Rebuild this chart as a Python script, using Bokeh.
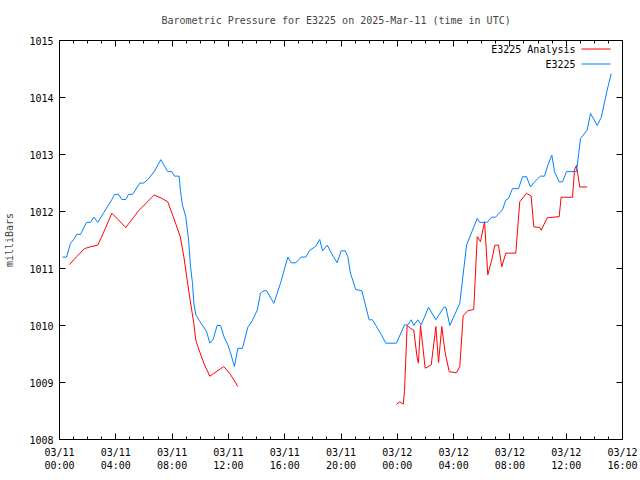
import math
from bokeh.plotting import figure
from bokeh.models import Range1d, FixedTicker, LinearAxis, Label, BoxAnnotation
from bokeh.embed import file_html
from bokeh.resources import INLINE

TITLE = "Barometric Pressure for E3225 on 2025-Mar-11 (time in UTC)"
Y_LABEL = "milliBars"
SERIES_NAMES = ["E3225 Analysis", "E3225"]

# hours since 2025-03-11 00:00 UTC
X_TICK_HOURS = [0, 4, 8, 12, 16, 20, 24, 28, 32, 36, 40]
X_TICK_LABELS = ["03/11\n00:00", "03/11\n04:00", "03/11\n08:00", "03/11\n12:00",
                 "03/11\n16:00", "03/11\n20:00", "03/12\n00:00", "03/12\n04:00",
                 "03/12\n08:00", "03/12\n12:00", "03/12\n16:00"]
X_MINOR_HOURS = list(range(0, 41))
Y_TICKS = [1008, 1009, 1010, 1011, 1012, 1013, 1014, 1015]

NAN = float("nan")

# Observed station pressure (E3225)
obs_hours = [0.21, 0.50, 0.78, 1.07, 1.21, 1.49, 1.92, 2.20, 2.44, 2.72,
             3.72, 3.91, 4.19, 4.43, 4.71, 4.90, 5.19, 5.71, 5.99, 6.32,
             6.75, 7.20, 7.69, 7.98, 8.17, 8.50, 8.60, 8.74, 8.97, 9.17,
             9.31, 9.45, 9.54, 9.68, 9.97, 10.44, 10.68, 10.92, 11.20, 11.44,
             11.72, 11.96, 12.15, 12.43, 12.67, 13.00, 13.38, 13.69, 14.05, 14.28,
             14.52, 14.71, 15.23, 15.70, 16.22, 16.46, 16.79, 17.17, 17.50, 17.78,
             18.21, 18.49, 18.69, 19.02, 19.45, 19.73, 20.01, 20.30, 20.48, 20.67,
             21.05, 21.48, 22.00, 22.24, 22.86, 23.18, 23.94, 24.51, 24.75, 24.99,
             25.17, 25.46, 25.70, 26.22, 26.74, 27.30, 27.45, 27.73, 28.44, 28.92,
             29.68, 29.86, 30.39, 30.69, 30.98, 31.47, 31.71, 31.90, 32.18, 32.61,
             32.90, 33.18, 33.46, 33.75, 34.17, 34.46, 34.69, 34.98, 35.17, 35.50,
             35.74, 36.02, 36.73, 37.02, 37.49, 37.73, 38.20, 38.49, 38.91, 39.20]
obs_mb = [1011.20, 1011.20, 1011.44, 1011.53, 1011.60, 1011.60, 1011.81, 1011.81, 1011.90, 1011.81,
          1012.21, 1012.30, 1012.30, 1012.21, 1012.21, 1012.30, 1012.30, 1012.50, 1012.50, 1012.57,
          1012.71, 1012.91, 1012.70, 1012.70, 1012.62, 1012.62, 1012.35, 1012.11, 1011.91, 1011.50,
          1011.03, 1010.74, 1010.40, 1010.19, 1010.07, 1009.90, 1009.69, 1009.76, 1010.00, 1010.00,
          1009.78, 1009.66, 1009.52, 1009.28, 1009.60, 1009.60, 1009.97, 1010.08, 1010.27, 1010.57,
          1010.61, 1010.61, 1010.39, 1010.74, 1011.20, 1011.10, 1011.10, 1011.20, 1011.20, 1011.32,
          1011.39, 1011.51, 1011.31, 1011.41, 1011.21, 1011.10, 1011.31, 1011.31, 1011.21, 1010.92,
          1010.63, 1010.61, 1010.10, 1010.10, 1009.84, 1009.69, 1009.69, 1010.01, 1010.01, 1010.10,
          1010.00, 1010.10, 1010.01, 1010.32, 1010.10, 1010.32, 1010.32, 1010.00, 1010.39, 1011.41,
          1011.88, 1011.81, 1011.81, 1011.90, 1011.90, 1012.03, 1012.20, 1012.23, 1012.40, 1012.40,
          1012.61, 1012.61, 1012.43, 1012.52, 1012.62, 1012.62, 1012.81, 1012.99, 1012.70, 1012.52,
          1012.52, 1012.70, 1012.70, 1013.28, 1013.43, 1013.72, 1013.51, 1013.65, 1014.13, 1014.42]

# Analysis pressure (E3225 Analysis); NaN marks the data gap
ana_hours = [0.71, 1.23, 1.78, 2.20, 2.72, 3.25, 3.72, 4.71, 5.61, 6.73,
             7.27, 7.69, 8.08, 8.58, 8.84, 9.04, 9.25, 9.54, 9.68, 9.83,
             10.25, 10.68, 11.67, 12.15, 12.67,
             NAN,
             23.94, 24.18, 24.42, 24.51, 24.70, 24.94, 25.17, 25.41, 25.50, 25.65,
             25.79, 25.98, 26.41, 26.74, 26.93, 27.16, 27.40, 27.69, 28.21, 28.44,
             28.68, 29.01, 29.43, 29.68, 29.91, 30.20, 30.43, 30.71, 30.93, 31.19,
             31.42, 31.71, 32.42, 32.70, 33.18, 33.51, 33.70, 34.13, 34.22, 34.65,
             35.50, 35.64, 36.45, 36.59, 36.73, 36.96, 37.49]
ana_mb = [1011.07, 1011.21, 1011.35, 1011.38, 1011.41, 1011.70, 1011.97, 1011.72, 1012.01, 1012.29,
          1012.23, 1012.17, 1011.91, 1011.56, 1011.20, 1010.85, 1010.50, 1010.04, 1009.75, 1009.63,
          1009.34, 1009.11, 1009.28, 1009.14, 1008.93,
          NAN,
          1008.62, 1008.66, 1008.62, 1008.84, 1010.00, 1009.95, 1009.92, 1009.43, 1009.34, 1010.00,
          1009.69, 1009.25, 1009.31, 1009.98, 1009.35, 1009.98, 1009.52, 1009.19, 1009.17, 1009.28,
          1010.17, 1010.26, 1010.28, 1011.56, 1011.47, 1011.82, 1010.89, 1011.15, 1011.41, 1011.41,
          1011.03, 1011.27, 1011.27, 1012.17, 1012.32, 1012.27, 1011.73, 1011.72, 1011.67, 1011.89,
          1011.91, 1012.25, 1012.25, 1012.73, 1012.81, 1012.43, 1012.43]

RED = "#ff0000"
BLUE = "#0080ff"
FONT = "DejaVu Sans Mono"
FS = "10px"

p = figure(width=640, height=480, output_backend="svg", toolbar_location=None,
           x_range=Range1d(0, 40), y_range=Range1d(1008, 1015),
           min_border_left=59, min_border_right=18, min_border_top=40, min_border_bottom=41,
           title=TITLE)
p.title.text_font = FONT
p.title.text_font_size = FS
p.title.text_font_style = "normal"
p.title.align = "left"
p.title.offset = 102
p.title.vertical_align = "top"
p.title.standoff = 26
p.outline_line_color = "black"
p.outline_line_width = 1
p.outline_line_alpha = 1
p.xgrid.visible = False
p.ygrid.visible = False
p.background_fill_color = "white"
p.border_fill_color = "white"

xt = FixedTicker(ticks=X_TICK_HOURS, minor_ticks=X_MINOR_HOURS)
yt = FixedTicker(ticks=Y_TICKS, minor_ticks=[])

def style_axis(ax, labels=True):
    ax.axis_line_color = None
    ax.major_tick_in = 6
    ax.major_tick_out = 0
    ax.minor_tick_in = 3
    ax.minor_tick_out = 0
    ax.major_tick_line_color = "black"
    ax.minor_tick_line_color = "black"
    ax.major_label_text_font = FONT
    if labels:
        ax.major_label_text_font_size = FS
        ax.major_label_text_color = "black"
    else:
        ax.major_label_text_font_size = "1px"
        ax.major_label_text_color = None
        ax.major_label_standoff = 0

xa = p.xaxis[0]
xa.ticker = xt
xa.major_label_overrides = {h: lab for h, lab in zip(X_TICK_HOURS, X_TICK_LABELS)}
style_axis(xa)
xa.major_label_standoff = 7

ya = p.yaxis[0]
ya.ticker = yt
style_axis(ya)
ya.major_label_standoff = 6
ya.axis_label = Y_LABEL
ya.axis_label_text_font = FONT
ya.axis_label_text_font_size = FS
ya.axis_label_text_font_style = "normal"
ya.axis_label_standoff = 11

top_ax = LinearAxis(ticker=xt)
style_axis(top_ax, labels=False)
p.add_layout(top_ax, "above")
right_ax = LinearAxis(ticker=yt)
style_axis(right_ax, labels=False)
p.add_layout(right_ax, "right")

p.line(ana_hours, ana_mb, line_color=RED, line_width=1)
p.line(obs_hours, obs_mb, line_color=BLUE, line_width=1)

# gnuplot-style key: text right-aligned, sample line to its right
for i, (name, col) in enumerate(zip(SERIES_NAMES, [RED, BLUE])):
    yy = 390.5 - 15 * i
    p.add_layout(Label(x=516, y=yy, x_units="screen", y_units="screen", text=name,
                       text_align="right", text_baseline="middle", text_font=FONT,
                       text_font_size=FS, text_color="black"))
    p.add_layout(BoxAnnotation(left=522, right=551, bottom=yy - 0.5, top=yy + 0.5,
                               left_units="screen", right_units="screen",
                               bottom_units="screen", top_units="screen",
                               fill_color=col, fill_alpha=1, line_color=None))

open("out.html", "w").write(file_html(p, INLINE))
